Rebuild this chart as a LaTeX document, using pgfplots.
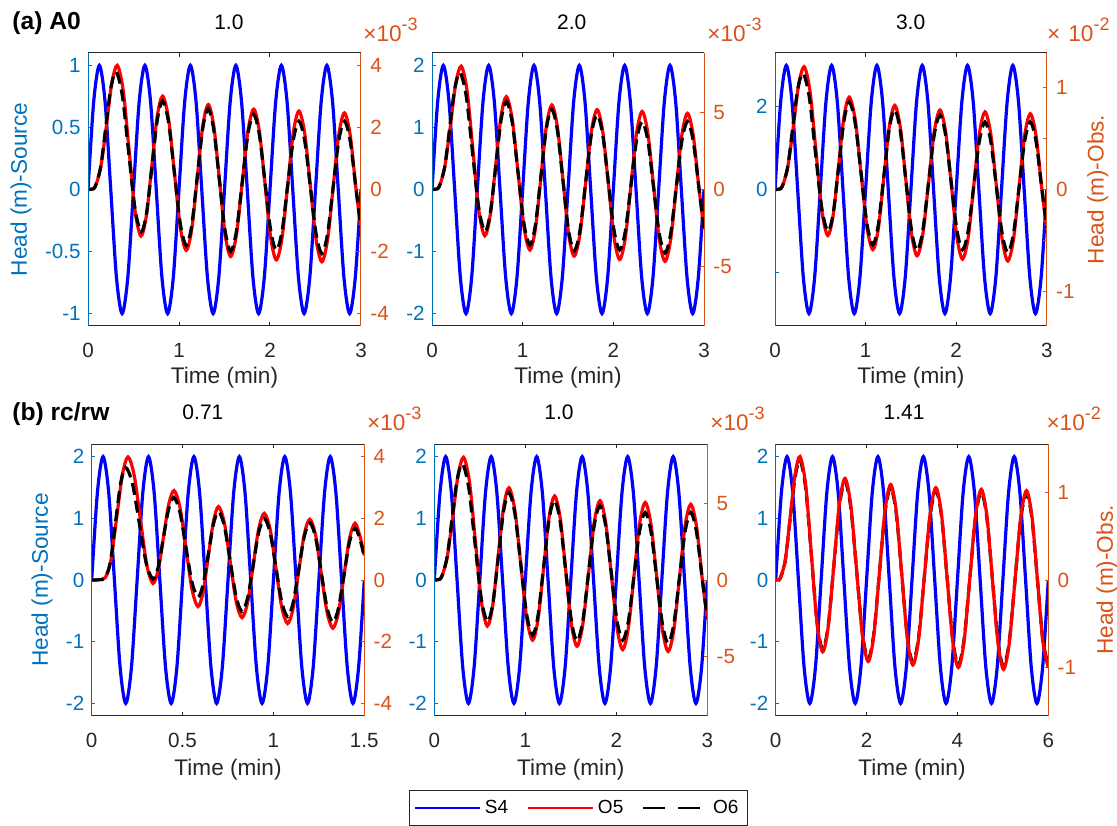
\documentclass[border=0pt]{standalone}
\usepackage{pgfplots}
\pgfplotsset{compat=1.18}
\usepackage{pgfplotstable}
\usepackage{fontspec}
\setmainfont{Liberation Sans}
\definecolor{mblue}{rgb}{0,0.447,0.741}
\definecolor{morange}{rgb}{0.85,0.325,0.098}
\definecolor{mgray}{rgb}{0.15,0.15,0.15}
\newcommand{\tickf}{\fontsize{10.3}{12}\selectfont}
\newcommand{\labf}{\fontsize{11.3}{13}\selectfont}
\newcommand{\titf}{\fontsize{10.5}{12}\selectfont}
\newcommand{\expo}[1]{\fontsize{11.3}{13}\selectfont ×10\raisebox{5.6pt}{\fontsize{9}{10}\selectfont -#1}}

% source S4: columns time for (a)/(b)2, (b)1, (b)3 ; amplitude 1,2,3
\pgfplotstableread{
ta tbo tbt s1 s2 s3
0 0 0 0 0 0
0.0625 0.03125 0.125 0.7071 1.4142 2.1213
0.125 0.0625 0.25 1 2 3
0.1875 0.09375 0.375 0.7071 1.4142 2.1213
0.25 0.125 0.5 0 0 0
0.3125 0.15625 0.625 -0.7071 -1.4142 -2.1213
0.375 0.1875 0.75 -1 -2 -3
0.4375 0.21875 0.875 -0.7071 -1.4142 -2.1213
0.5 0.25 1 0 0 0
0.5625 0.28125 1.125 0.7071 1.4142 2.1213
0.625 0.3125 1.25 1 2 3
0.6875 0.34375 1.375 0.7071 1.4142 2.1213
0.75 0.375 1.5 0 0 0
0.8125 0.40625 1.625 -0.7071 -1.4142 -2.1213
0.875 0.4375 1.75 -1 -2 -3
0.9375 0.46875 1.875 -0.7071 -1.4142 -2.1213
1 0.5 2 0 0 0
1.0625 0.53125 2.125 0.7071 1.4142 2.1213
1.125 0.5625 2.25 1 2 3
1.1875 0.59375 2.375 0.7071 1.4142 2.1213
1.25 0.625 2.5 0 0 0
1.3125 0.65625 2.625 -0.7071 -1.4142 -2.1213
1.375 0.6875 2.75 -1 -2 -3
1.4375 0.71875 2.875 -0.7071 -1.4142 -2.1213
1.5 0.75 3 0 0 0
1.5625 0.78125 3.125 0.7071 1.4142 2.1213
1.625 0.8125 3.25 1 2 3
1.6875 0.84375 3.375 0.7071 1.4142 2.1213
1.75 0.875 3.5 0 0 0
1.8125 0.90625 3.625 -0.7071 -1.4142 -2.1213
1.875 0.9375 3.75 -1 -2 -3
1.9375 0.96875 3.875 -0.7071 -1.4142 -2.1213
2 1 4 0 0 0
2.0625 1.03125 4.125 0.7071 1.4142 2.1213
2.125 1.0625 4.25 1 2 3
2.1875 1.09375 4.375 0.7071 1.4142 2.1213
2.25 1.125 4.5 0 0 0
2.3125 1.15625 4.625 -0.7071 -1.4142 -2.1213
2.375 1.1875 4.75 -1 -2 -3
2.4375 1.21875 4.875 -0.7071 -1.4142 -2.1213
2.5 1.25 5 0 0 0
2.5625 1.28125 5.125 0.7071 1.4142 2.1213
2.625 1.3125 5.25 1 2 3
2.6875 1.34375 5.375 0.7071 1.4142 2.1213
2.75 1.375 5.5 0 0 0
2.8125 1.40625 5.625 -0.7071 -1.4142 -2.1213
2.875 1.4375 5.75 -1 -2 -3
2.9375 1.46875 5.875 -0.7071 -1.4142 -2.1213
3 1.5 6 0 0 0
}\tblS

% O5, row (a): r1 (x1e-3), r2 (x1e-3), r3 (x1e-2)
\pgfplotstableread{
t r1 r2 r3
0 0 0 0
0.04 0.01 0.02 0.003
0.08 0.1 0.2 0.03
0.14 0.72 1.44 0.216
0.2 2.0 4.0 0.6
0.26 3.4 6.8 1.02
0.322 4.0 8.0 1.2
0.387 3.19 6.38 0.957
0.452 1.25 2.5 0.375
0.517 -0.69 -1.38 -0.207
0.582 -1.5 -3.0 -0.45
0.6415 -0.84 -1.68 -0.252
0.701 0.755 1.51 0.2265
0.7605 2.35 4.7 0.705
0.82 3.01 6.02 0.903
0.885 2.28 4.56 0.684
0.95 0.525 1.05 0.1575
1.015 -1.23 -2.46 -0.369
1.08 -1.96 -3.92 -0.588
1.1405 -1.27 -2.54 -0.381
1.201 0.39 0.78 0.117
1.2615 2.05 4.1 0.615
1.322 2.74 5.48 0.822
1.3835 2.02 4.04 0.606
1.445 0.29 0.58 0.087
1.5065 -1.44 -2.88 -0.432
1.568 -2.16 -4.32 -0.648
1.631 -1.46 -2.92 -0.438
1.695 0.215 0.43 0.0645
1.758 1.89 3.78 0.567
1.821 2.59 5.18 0.777
1.883 1.88 3.76 0.564
1.946 0.16 0.32 0.048
2.008 -1.56 -3.12 -0.468
2.07 -2.27 -4.54 -0.681
2.132 -1.57 -3.14 -0.471
2.194 0.13 0.26 0.039
2.256 1.83 3.66 0.549
2.318 2.53 5.06 0.759
2.381 1.82 3.64 0.546
2.444 0.10 0.2 0.03
2.507 -1.62 -3.24 -0.486
2.57 -2.33 -4.66 -0.699
2.632 -1.63 -3.26 -0.489
2.694 0.07 0.14 0.021
2.756 1.77 3.54 0.531
2.818 2.47 4.94 0.741
2.881 1.76 3.52 0.528
2.944 0.05 0.1 0.015
3.0 -1.3 -2.6 -0.39
}\tblRa

% O6, row (a)
\pgfplotstableread{
t k1 k2 k3
0 0 0 0
0.04 0.01 0.02 0.003
0.08 0.1 0.2 0.03
0.14 0.74 1.48 0.222
0.195 2.0 4.0 0.6
0.25 3.25 6.5 0.975
0.308 3.79 7.58 1.137
0.377 3.035 6.07 0.9105
0.446 1.215 2.43 0.3645
0.516 -0.605 -1.21 -0.1815
0.585 -1.36 -2.72 -0.408
0.644 -0.743 -1.486 -0.2229
0.703 0.745 1.49 0.2235
0.761 2.233 4.466 0.6699
0.82 2.85 5.7 0.855
0.885 2.169 4.338 0.6507
0.95 0.525 1.05 0.1575
1.015 -1.119 -2.238 -0.3357
1.08 -1.8 -3.6 -0.54
1.14 -1.155 -2.31 -0.3465
1.2 0.4 0.8 0.12
1.26 1.955 3.91 0.5865
1.32 2.6 5.2 0.78
1.382 1.928 3.856 0.5784
1.444 0.305 0.61 0.0915
1.506 -1.318 -2.636 -0.3954
1.568 -1.99 -3.98 -0.597
1.631 -1.344 -2.688 -0.4032
1.694 0.215 0.43 0.0645
1.757 1.774 3.548 0.5322
1.82 2.42 4.84 0.726
1.8825 1.778 3.556 0.5334
1.945 0.23 0.46 0.069
2.0075 -1.318 -2.636 -0.3954
2.07 -1.96 -3.92 -0.588
2.132 -1.351 -2.702 -0.4053
2.194 0.12 0.24 0.036
2.256 1.591 3.182 0.4773
2.318 2.2 4.4 0.66
2.381 1.576 3.152 0.4728
2.444 0.07 0.14 0.021
2.507 -1.436 -2.872 -0.4308
2.57 -2.06 -4.12 -0.618
2.632 -1.436 -2.872 -0.4308
2.694 0.07 0.14 0.021
2.756 1.576 3.152 0.4728
2.818 2.2 4.4 0.66
2.881 1.57 3.14 0.471
2.944 0.05 0.1 0.015
3.0 -1.25 -2.5 -0.375
}\tblKa

% (b) rc/rw = 0.71 : O5 r, O6 k (x1e-3)
\pgfplotstableread{
t r
0 0
0.04 0.01
0.075 0.08
0.106 0.65
0.1375 2.03
0.169 3.42
0.2 3.99
0.234 3.39
0.2685 1.94
0.303 0.49
0.337 -0.11
0.366 0.331
0.395 1.395
0.424 2.459
0.453 2.9
0.486 2.349
0.519 1.02
0.552 -0.309
0.585 -0.86
0.613 -0.385
0.6415 0.76
0.670 1.905
0.698 2.38
0.730 1.853
0.7625 0.58
0.795 -0.693
0.827 -1.22
0.858 -0.725
0.8885 0.47
0.919 1.665
0.95 2.16
0.982 1.637
1.014 0.375
1.046 -0.887
1.078 -1.41
1.1085 -0.915
1.139 0.28
1.1695 1.475
1.2 1.97
1.232 1.453
1.2635 0.205
1.295 -1.043
1.327 -1.56
1.3575 -1.062
1.388 0.14
1.4185 1.342
1.449 1.84
1.477 1.4
1.5 0.8
}\tblRb
\pgfplotstableread{
t k
0 0
0.04 0.01
0.075 0.08
0.103 0.6
0.131 1.865
0.159 3.127
0.187 3.65
0.2245 3.12
0.262 1.84
0.2995 0.56
0.337 0.03
0.366 0.418
0.3945 1.355
0.423 2.292
0.452 2.68
0.485 2.207
0.5185 1.065
0.552 -0.077
0.585 -0.55
0.613 -0.144
0.6415 0.835
0.670 1.814
0.698 2.22
0.730 1.745
0.7625 0.6
0.795 -0.545
0.827 -1.02
0.858 -0.579
0.8885 0.485
0.919 1.549
0.95 1.99
0.982 1.526
1.014 0.405
1.046 -0.716
1.078 -1.18
1.1085 -0.736
1.139 0.335
1.1695 1.406
1.2 1.85
1.232 1.378
1.2635 0.24
1.295 -0.898
1.327 -1.37
1.3575 -0.923
1.388 0.155
1.4185 1.233
1.449 1.68
1.477 1.3
1.5 0.75
}\tblKb

% (b) rc/rw = 1.41 : O5 r, O6 k (x1e-2)
\pgfplotstableread{
t r k
0 0 0
0.05 0.003 0.0029
0.1 0.02 0.0194
0.209 0.224 0.217
0.3175 0.715 0.694
0.426 1.206 1.17
0.535 1.41 1.368
0.660 1.083 1.05
0.7845 0.295 0.286
0.909 -0.493 -0.478
1.034 -0.82 -0.795
1.157 -0.53 -0.514
1.2795 0.17 0.165
1.402 0.87 0.844
1.525 1.16 1.125
1.6525 0.854 0.828
1.78 0.115 0.112
1.9075 -0.624 -0.605
2.035 -0.93 -0.902
2.159 -0.634 -0.615
2.2825 0.08 0.078
2.406 0.794 0.77
2.53 1.09 1.057
2.6525 0.788 0.764
2.775 0.06 0.058
2.8975 -0.668 -0.648
3.02 -0.97 -0.941
3.146 -0.673 -0.653
3.2725 0.0425 0.041
3.399 0.758 0.735
3.525 1.055 1.023
3.649 0.754 0.731
3.7725 0.0275 0.027
3.896 -0.699 -0.678
4.02 -1.0 -0.97
4.146 -0.702 -0.681
4.2725 0.018 0.017
4.399 0.738 0.716
4.525 1.036 1.005
4.6475 0.735 0.713
4.77 0.008 0.008
4.8925 -0.719 -0.697
5.015 -1.02 -0.989
5.141 -0.721 -0.699
5.2675 0 0
5.394 0.721 0.699
5.52 1.02 0.989
5.64 0.724 0.702
5.76 0.01 0.01
5.88 -0.704 -0.683
6.0 -1.0 -0.97
}\tblRc

\pgfplotsset{
  P/.style={scale only axis, xmin=0,
    axis line style={draw=none},
    tick align=inside, major tick length=1.8pt,
    /pgf/number format/assume math mode=true,
    scaled ticks=false,
    tick label style={font=\tickf},
  },
  L/.style={P, xtick pos=both, ytick pos=left,
    xtick style={color=mgray, line width=0.5pt},
    ytick style={color=mblue, line width=0.5pt},
    xticklabel style={anchor=north, inner sep=0pt, yshift=-8.6pt, text=mgray},
    yticklabel style={anchor=east, inner sep=0pt, xshift=-3.5pt, text=mblue},
    xlabel={Time (min)},
    xlabel style={at={(axis description cs:0.5,-0.19)}, anchor=center, inner sep=0pt, text=mgray, font=\labf},
    ylabel style={anchor=center, inner sep=0pt, text=mblue, font=\labf},
    title style={anchor=base, inner sep=0pt, font=\titf, text=black},
  },
  R/.style={P, xtick=\empty, ytick pos=right, yticklabel pos=right,
    ytick style={color=morange, line width=0.5pt},
    yticklabel style={anchor=west, inner sep=0pt, xshift=4.5pt, text=morange},
    ylabel style={anchor=center, inner sep=0pt, text=morange, font=\labf},
  },
  sS/.style={blue, line width=1.6pt, smooth},
  sO5/.style={red, line width=1.6pt, smooth},
  sO6/.style={black, line width=1.6pt, smooth, dash pattern=on 6pt off 3pt},
}
\newcommand{\pframe}[1]{%
  \draw[mgray, line width=0.5pt] (#1.south west) -- (#1.south east) (#1.north west) -- (#1.north east);
  \draw[mblue, line width=0.5pt] (#1.south west) -- (#1.north west);
  \draw[morange, line width=0.5pt] (#1.south east) -- (#1.north east);}

\begin{document}
\begin{tikzpicture}
\useasboundingbox (0,0) rectangle (558.5pt,412.5pt);

% ---------------- (a) 1.0
\begin{axis}[L, name=A1, at={(44pt,249.5pt)}, width=136.5pt, height=136.5pt,
  xmax=3, ymin=-1.1, ymax=1.1, xtick={0,1,2,3}, ytick={-1,-0.5,0,0.5,1},
  title={1.0}, title style={at={(axis description cs:0.516,1)}, yshift=5.6pt},
  ylabel={Head (m)-Source}, ylabel style={at={(axis description cs:-0.245,0.5)}}]
\addplot[sS] table[x=ta,y=s1]{\tblS};
\end{axis}
\begin{axis}[R, name=A1r, at={(44pt,249.5pt)}, width=136.5pt, height=136.5pt,
  xmax=3, ymin=-4.4, ymax=4.4, ytick={-4,-2,0,2,4}]
\addplot[sO5] table[x=t,y=r1]{\tblRa};
\addplot[sO6] table[x=t,y=k1]{\tblKa};
\end{axis}
\pframe{A1}
\node[anchor=base west, inner sep=0pt, text=morange] at ([xshift=1pt,yshift=5.6pt]A1.north east) {\expo{3}};

% ---------------- (a) 2.0
\begin{axis}[L, name=A2, at={(216pt,249.5pt)}, width=136pt, height=136.5pt,
  xmax=3, ymin=-2.2, ymax=2.2, xtick={0,1,2,3}, ytick={-2,-1,0,1,2},
  title={2.0}, title style={at={(axis description cs:0.514,1)}, yshift=5.6pt}]
\addplot[sS] table[x=ta,y=s2]{\tblS};
\end{axis}
\begin{axis}[R, name=A2r, at={(216pt,249.5pt)}, width=136pt, height=136.5pt,
  xmax=3, ymin=-8.85, ymax=8.85, ytick={-5,0,5}]
\addplot[sO5] table[x=t,y=r2]{\tblRa};
\addplot[sO6] table[x=t,y=k2]{\tblKa};
\end{axis}
\pframe{A2}
\node[anchor=base west, inner sep=0pt, text=morange] at ([xshift=1.5pt,yshift=5.6pt]A2.north east) {\expo{3}};

% ---------------- (a) 3.0
\begin{axis}[L, name=A3, at={(387.5pt,249.5pt)}, width=135.9pt, height=136.5pt,
  xmax=3, ymin=-3.3, ymax=3.3, xtick={0,1,2,3}, ytick={-2,0,2}, yticklabels={,0,2},
  title={3.0}, title style={at={(axis description cs:0.499,1)}, yshift=5.6pt}]
\addplot[sS] table[x=ta,y=s3]{\tblS};
\end{axis}
\begin{axis}[R, name=A3r, at={(387.5pt,249.5pt)}, width=135.9pt, height=136.5pt,
  xmax=3, ymin=-1.335, ymax=1.335, ytick={-1,-0.5,0,0.5,1}, yticklabels={-1,,0,,1},
  ylabel={Head (m)-Obs.}, ylabel style={at={(axis description cs:1.1875,0.5)}}]
\addplot[sO5] table[x=t,y=r3]{\tblRa};
\addplot[sO6] table[x=t,y=k3]{\tblKa};
\end{axis}
\pframe{A3}
\node[anchor=base west, inner sep=0pt, text=morange] at ([xshift=0pt,yshift=5.6pt]A3.north east) {\fontsize{11.3}{13}\selectfont ×\hspace{4pt}10\raisebox{5.6pt}{\fontsize{9}{10}\selectfont -2}};

% ---------------- (b) 0.71
\begin{axis}[L, name=B1, at={(45.85pt,54.65pt)}, width=136.3pt, height=135.7pt,
  xmax=1.5, ymin=-2.2, ymax=2.2, xtick={0,0.5,1,1.5}, ytick={-2,-1,0,1,2},
  title={0.71}, title style={at={(axis description cs:0.408,1)}, yshift=6.3pt},
  xlabel style={at={(axis description cs:0.5,-0.2)}},
  ylabel={Head (m)-Source}, ylabel style={at={(axis description cs:-0.182,0.5)}}]
\addplot[sS] table[x=tbo,y=s2]{\tblS};
\end{axis}
\begin{axis}[R, name=B1r, at={(45.85pt,54.65pt)}, width=136.3pt, height=135.7pt,
  xmax=1.5, ymin=-4.4, ymax=4.4, ytick={-4,-2,0,2,4}]
\addplot[sO5] table[x=t,y=r]{\tblRb};
\addplot[sO6] table[x=t,y=k]{\tblKb};
\end{axis}
\pframe{B1}
\node[anchor=base west, inner sep=0pt, text=morange] at ([xshift=1.2pt,yshift=7pt]B1.north east) {\expo{3}};

% ---------------- (b) 1.0
\begin{axis}[L, name=B2, at={(217.15pt,54.65pt)}, width=136.5pt, height=135.7pt,
  xmax=3, ymin=-2.2, ymax=2.2, xtick={0,1,2,3}, ytick={-2,-1,0,1,2},
  title={1.0}, title style={at={(axis description cs:0.457,1)}, yshift=6.3pt},
  xlabel style={at={(axis description cs:0.5,-0.2)}}]
\addplot[sS] table[x=ta,y=s2]{\tblS};
\end{axis}
\begin{axis}[R, name=B2r, at={(217.15pt,54.65pt)}, width=136.5pt, height=135.7pt,
  xmax=3, ymin=-8.85, ymax=8.85, ytick={-5,0,5},
  legend style={at={(axis description cs:0.5275,-0.34)}, anchor=center,
    draw=mgray, line width=0.5pt, font=\fontsize{9.5}{11}\selectfont,
    inner sep=2.5pt, /tikz/every even column/.append style={column sep=7.5pt}},
  legend columns=3,
  legend image code/.code={\draw[#1] (0pt,0pt) -- (32.5pt,0pt);}]
\addlegendimage{blue, line width=0.9pt}\addlegendentry{S4}
\addlegendimage{red, line width=0.9pt}\addlegendentry{O5}
\addlegendimage{black, line width=0.9pt, dash pattern=on 11pt off 6.5pt}\addlegendentry{O6}
\addplot[sO5, forget plot] table[x=t,y=r2]{\tblRa};
\addplot[sO6, forget plot] table[x=t,y=k2]{\tblKa};
\end{axis}
\pframe{B2}
\node[anchor=base west, inner sep=0pt, text=morange] at ([xshift=1.35pt,yshift=7pt]B2.north east) {\expo{3}};

% ---------------- (b) 1.41
\begin{axis}[L, name=B3, at={(387.85pt,54.65pt)}, width=136.3pt, height=135.7pt,
  xmax=6, ymin=-2.2, ymax=2.2, xtick={0,2,4,6}, ytick={-2,-1,0,1,2},
  title={1.41}, title style={at={(axis description cs:0.471,1)}, yshift=6.3pt},
  xlabel style={at={(axis description cs:0.5,-0.2)}}]
\addplot[sS] table[x=tbt,y=s2]{\tblS};
\end{axis}
\begin{axis}[R, name=B3r, at={(387.85pt,54.65pt)}, width=136.3pt, height=135.7pt,
  xmax=6, ymin=-1.55, ymax=1.55, ytick={-1,0,1},
  ylabel={Head (m)-Obs.}, ylabel style={at={(axis description cs:1.215,0.5)}}]
\addplot[sO6] table[x=t,y=k]{\tblRc};
\addplot[sO5] table[x=t,y=r]{\tblRc};
\end{axis}
\pframe{B3}
\node[anchor=base west, inner sep=0pt, text=morange] at ([xshift=-1.1pt,yshift=7pt]B3.north east) {\expo{2}};

% panel labels
\node[anchor=base west, inner sep=0pt, font=\fontsize{12.3}{14}\selectfont\bfseries] at (6pt,397.8pt) {(a) A0};
\node[anchor=base west, inner sep=0pt, font=\fontsize{12.3}{14}\selectfont\bfseries] at (6pt,202pt) {(b) rc/rw};
\end{tikzpicture}
\end{document}
